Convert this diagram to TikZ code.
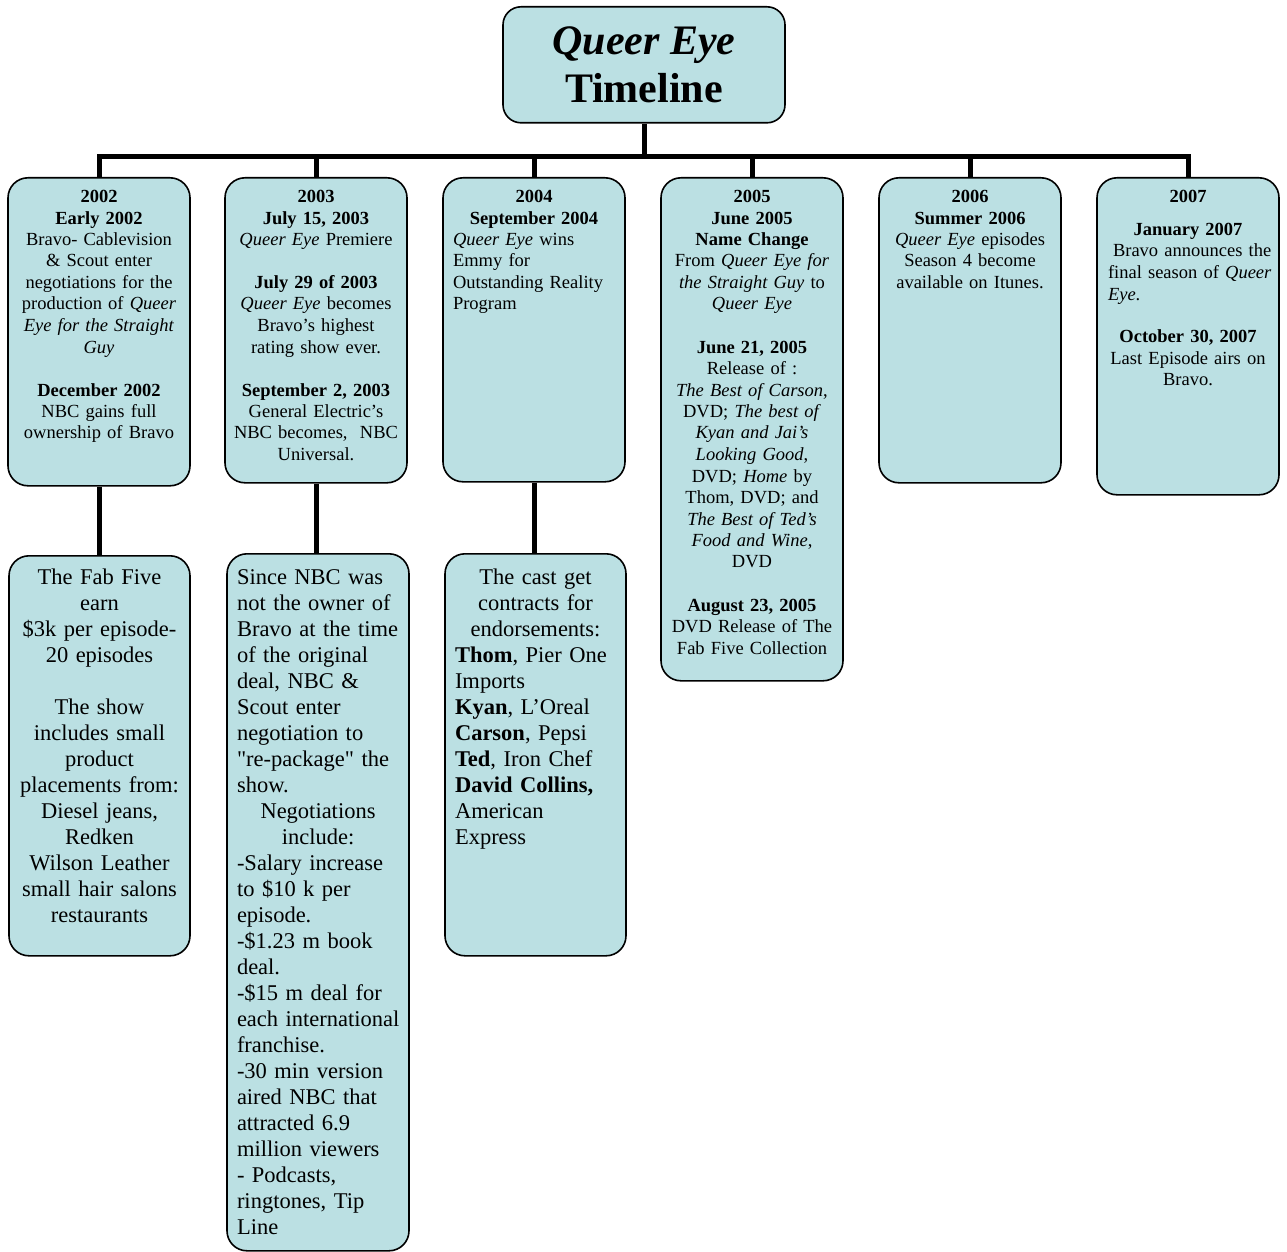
\documentclass[tikz,border=0pt]{standalone}
\usepackage{fontspec}
\setmainfont{Liberation Serif}
\usepackage{tikz}
\definecolor{qeteal}{RGB}{187,224,227}

\begin{document}
\begin{tikzpicture}[x=1pt,y=-1pt,
  qbox/.style={rectangle,rounded corners=20pt,fill=qeteal,draw=black,line width=1.6pt,minimum width=182pt,anchor=north,inner sep=0pt},
  toptext/.style={text width=172pt,inner sep=0pt,anchor=base,align=center,font=\fontsize{18.5}{21.5}\selectfont},
  lowtext/.style={text width=172pt,inner sep=0pt,anchor=base,align=center,font=\fontsize{22.5}{26}\selectfont},
  link/.style={draw=black,line width=5pt}]
\useasboundingbox (0,0) rectangle (1287,1252);
\node[qbox,minimum width=282pt,minimum height=116pt,rounded corners=18pt,align=center,font=\fontsize{42}{48}\selectfont\bfseries] (title) at (644,6) {\textit{Queer Eye}\\Timeline};
\node[qbox,minimum height=308pt] (y2002) at (99,177) {};
\node[qbox,minimum height=305pt] (y2003) at (316,177) {};
\node[qbox,minimum height=304pt] (y2004) at (534,177) {};
\node[qbox,minimum height=503pt] (y2005) at (752,177) {};
\node[qbox,minimum height=305pt] (y2006) at (970,177) {};
\node[qbox,minimum height=317pt] (y2007) at (1188,177) {};
\node[qbox,minimum width=181pt,minimum height=400pt] (fab) at (99.5,555) {};
\node[qbox,minimum height=697pt] (nbc) at (318,553) {};
\node[qbox,minimum width=181pt,minimum height=402pt] (cast) at (535.5,553) {};
\node[toptext] (t2002) at ([yshift=-25.5pt]y2002.north) {\textbf{2002}\\\textbf{Early 2002}\\Bravo- Cablevision\\\& Scout enter\\negotiations for the\\production of \textit{Queer}\\\textit{Eye for the Straight}\\\textit{Guy}\\[21.5pt]\textbf{December 2002}\\NBC gains full\\ownership of Bravo\par};
\node[toptext] (t2003) at ([yshift=-25.5pt]y2003.north) {\textbf{2003}\\\textbf{July 15, 2003}\\\textit{Queer Eye} Premiere\\[21.5pt]\textbf{July 29 of 2003}\\\textit{Queer Eye} becomes\\Bravo’s highest\\rating show ever.\\[21.5pt]\textbf{September 2, 2003}\\General Electric’s\\NBC becomes,\ \ NBC\\Universal.\par};
\node[toptext] (t2004) at ([yshift=-25.5pt]y2004.north) {\textbf{2004}\\\textbf{September 2004}\par\raggedright\leftskip=5pt\textit{Queer Eye} wins\\Emmy for\\Outstanding Reality\\Program\par};
\node[toptext] (t2005) at ([yshift=-25.5pt]y2005.north) {\textbf{2005}\\\textbf{June 2005}\\\textbf{Name Change}\\From \textit{Queer Eye for}\\\textit{the Straight Guy} to\\\textit{Queer Eye}\\[21.5pt]\textbf{June 21, 2005}\\Release of :\\\textit{The Best of Carson},\\DVD; \textit{The best of}\\\textit{Kyan and Jai’s}\\\textit{Looking Good},\\DVD; \textit{Home} by\\Thom, DVD; and\\\textit{The Best of Ted’s}\\\textit{Food and Wine},\\DVD\\[21.5pt]\textbf{August 23, 2005}\\DVD Release of The\\Fab Five Collection\par};
\node[toptext] (t2006) at ([yshift=-25.5pt]y2006.north) {\textbf{2006}\\\textbf{Summer 2006}\\\textit{Queer Eye} episodes\\Season 4 become\\available on Itunes.\par};
\node[toptext] (t2007) at ([yshift=-25.5pt]y2007.north) {\textbf{2007}\\[11.5pt]\textbf{January 2007}\par\raggedright\leftskip=6pt\hspace*{5pt}Bravo announces the\\final season of \textit{Queer}\\\textit{Eye}.\par\vspace{21.5pt}\centering\textbf{October 30, 2007}\\Last Episode airs on\\Bravo.\par};
\node[lowtext] (tfab) at ([yshift=-29.5pt]fab.north) {The Fab Five\\earn\\\$3k per episode-\\20 episodes\\[26pt]The show\\includes small\\product\\placements from:\\Diesel jeans,\\Redken\\Wilson Leather\\small hair salons\\restaurants\par};
\node[lowtext] (tnbc) at ([yshift=-31.5pt]nbc.north) {\raggedright\leftskip=5pt Since NBC was\\not the owner of\\Bravo at the time\\of the original\\deal, NBC \&\\Scout enter\\negotiation to\\\textquotedbl re-package\textquotedbl{} the\\show.\par\centering Negotiations\\include:\par\raggedright\leftskip=5pt -Salary increase\\to \$10 k per\\episode.\\-\$1.23 m book\\deal.\\-\$15 m deal for\\each international\\franchise.\\-30 min version\\aired NBC that\\attracted 6.9\\million viewers\\- Podcasts,\\ringtones, Tip\\Line\par};
\node[lowtext] (tcast) at ([yshift=-31.5pt]cast.north) {The cast get\\contracts for\\endorsements:\par\raggedright\leftskip=5.5pt\textbf{Thom}, Pier One\\Imports\\\textbf{Kyan}, L’Oreal\\\textbf{Carson}, Pepsi\\\textbf{Ted}, Iron Chef\\\textbf{David Collins,}\\American\\Express\par};
\coordinate (bar) at (644,157);
\draw[link] (title.south) -- (bar);
\draw[link] (bar) -| (y2002.north);
\draw[link] (bar) -| (y2003.north);
\draw[link] (bar) -| (y2004.north);
\draw[link] (bar) -| (y2005.north);
\draw[link] (bar) -| (y2006.north);
\draw[link] (bar) -| (y2007.north);
\draw[link] (y2002.south) -- (y2002.south |- fab.north);
\draw[link] (y2003.south) -- (y2003.south |- nbc.north);
\draw[link] (y2004.south) -- (y2004.south |- cast.north);
\end{tikzpicture}
\end{document}
